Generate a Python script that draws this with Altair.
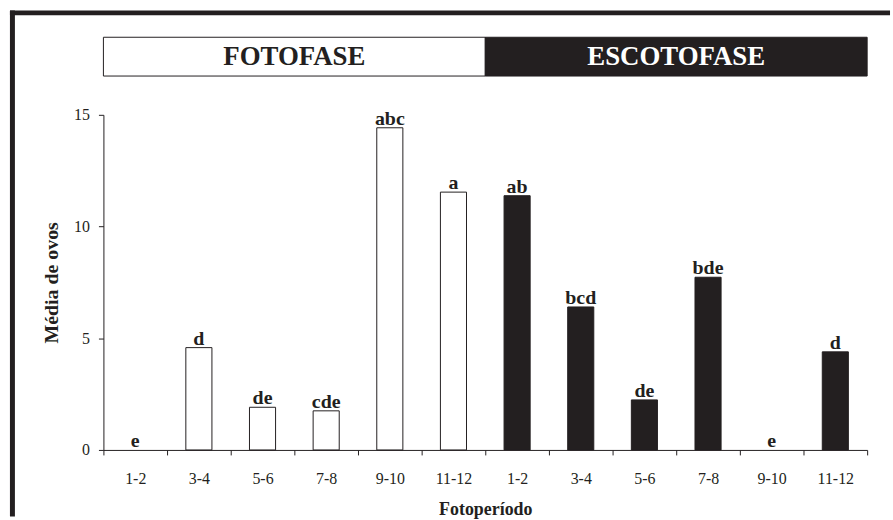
import altair as alt
import pandas as pd

# Mean number of eggs laid per two-hour interval, light phase then dark phase
periods = ["1-2", "3-4", "5-6", "7-8", "9-10", "11-12",
           "1-2", "3-4", "5-6", "7-8", "9-10", "11-12"]
phases = ["FOTOFASE"] * 6 + ["ESCOTOFASE"] * 6
eggs = [0, 4.58, 1.91, 1.75, 14.42, 11.54, 11.38, 6.40, 2.24, 7.73, 0, 4.39]
letters = ["e", "d", "de", "cde", "abc", "a", "ab", "bcd", "de", "bde", "e", "d"]

# Header bands: which intervals belong to each phase
phase_names = ["FOTOFASE", "ESCOTOFASE"]
phase_start = [0, 6]
phase_end = [6, 12]

y_ticks = [0, 5, 10, 15]

INK = "#231f20"
SERIF = "Liberation Serif"

keys = [f"{ph}|{p}" for ph, p in zip(phases, periods)]
df = pd.DataFrame({"key": keys, "period": periods, "phase": phases,
                   "eggs": eggs, "letter": letters})
hdf = pd.DataFrame({"phase": phase_names, "start": phase_start, "end": phase_end})
frame_df = pd.DataFrame({"edge": [1]})

fill = alt.Color("phase:N",
                 scale=alt.Scale(domain=phase_names, range=["white", INK]),
                 legend=None)

x = alt.X("key:N", sort=keys,
          scale=alt.Scale(paddingInner=0, paddingOuter=0),
          axis=alt.Axis(title="Fotoperíodo", tickBand="extent",
                        labelExpr="split(datum.value, '|')[1]",
                        labelAngle=0, labelPadding=16, tickSize=5,
                        labelFontSize=16, titleFontSize=18,
                        titleFontWeight="bold", titlePadding=14))
y = alt.Y("eggs:Q",
          scale=alt.Scale(domain=[0, 15], nice=False, zero=True),
          axis=alt.Axis(values=y_ticks, title="Média de ovos", grid=False,
                        tickSize=5, labelPadding=9, labelFontSize=16,
                        titleFontSize=20, titleFontWeight="bold",
                        titlePadding=12))

# Only intervals with eggs get a visible bar outline
bars = alt.Chart(df).transform_filter("datum.eggs > 0").mark_bar(
    width=alt.RelativeBandSize(0.41), stroke=INK, strokeWidth=1
).encode(x=x, y=y, color=fill)

marks_text = alt.Chart(df).mark_text(
    font=SERIF, fontWeight="bold", fontSize=20, dy=-3,
    baseline="alphabetic", color=INK
).encode(x=x, y=y, text="letter:N")

main = alt.layer(bars, marks_text).properties(width=768, height=337)

hx_scale = alt.Scale(domain=[0, 12], nice=False, zero=False)
boxes = alt.Chart(hdf).mark_rect(stroke=INK, strokeWidth=1).encode(
    x=alt.X("start:Q", scale=hx_scale, axis=None),
    x2="end:Q",
    color=fill,
)
names = alt.Chart(hdf).transform_calculate(
    mid="(datum.start + datum.end) / 2"
).mark_text(font=SERIF, fontWeight="bold", fontSize=27, baseline="middle").encode(
    x=alt.X("mid:Q", scale=hx_scale, axis=None),
    text="phase:N",
    color=alt.condition(alt.datum.phase == "FOTOFASE", alt.value(INK), alt.value("white")),
)

# Heavy figure frame along the top and left edges
frame_top = alt.Chart(frame_df).mark_rule(color=INK, strokeWidth=5).encode(
    x=alt.value(-94), x2=alt.value(791), y=alt.value(-24.5))
frame_left = alt.Chart(frame_df).mark_rule(color=INK, strokeWidth=5).encode(
    x=alt.value(-91.5), y=alt.value(-27), y2=alt.value(482))

header = alt.layer(frame_top, frame_left, boxes, names).properties(width=768, height=39)

chart = alt.vconcat(header, main, spacing=39, bounds="flush").properties(
    padding={"left": 7, "top": 6, "right": 0, "bottom": 0},
    background="white",
).configure_view(stroke=None).configure_axis(
    labelFont=SERIF, titleFont=SERIF, labelColor=INK, titleColor=INK,
    domainColor=INK, tickColor=INK, domainWidth=1, tickWidth=1
)

chart.save("out.html", embed_options={"renderer": "svg", "actions": False})
